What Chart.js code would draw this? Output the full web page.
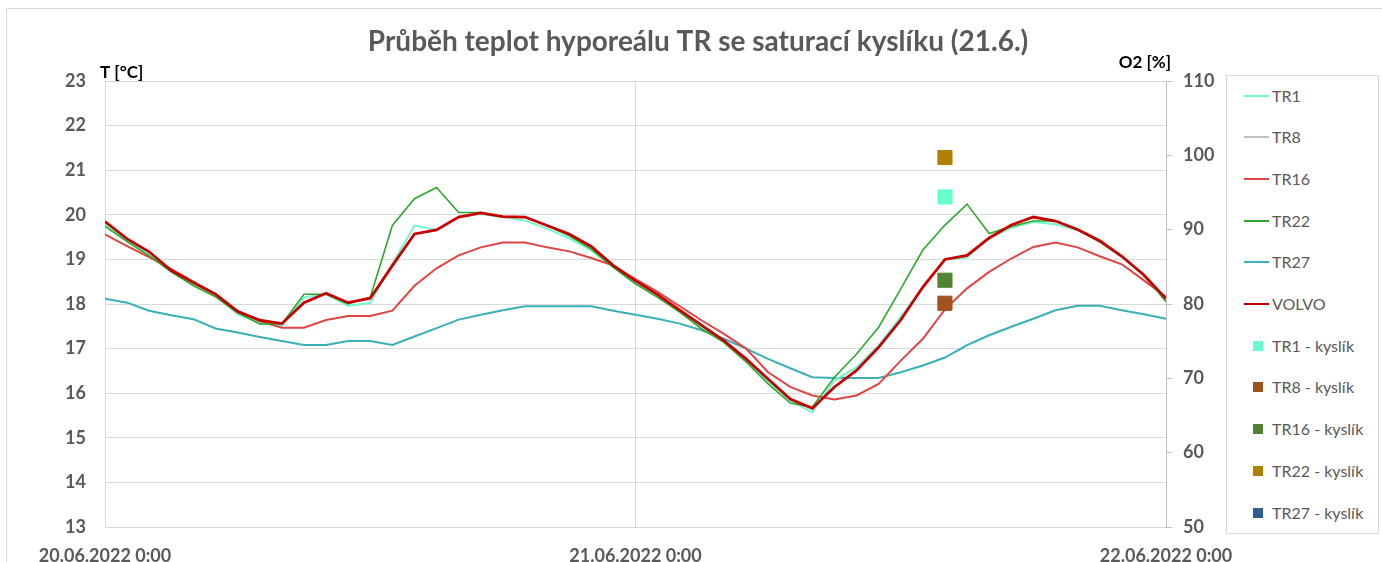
<!DOCTYPE html>
<html lang="cs">
<head>
<meta charset="UTF-8">
<title>Průběh teplot hyporeálu TR</title>
<script src="https://cdn.jsdelivr.net/npm/chart.js"></script>
<style>
    body { margin: 0; background: #fff; overflow: hidden; font-family: Lato, sans-serif; }
    #obal { position: relative; width: 1382px; height: 562px; overflow: hidden; }
    #ramec { position: absolute; left: 6px; top: 8px; width: 1400px; height: 600px; border: 1px solid #D9D9D9; }
    #graf { position: absolute; left: 0; top: 0; }
    #legenda { position: absolute; left: 1226px; top: 75px; width: 151px; height: 457px; border: 1px solid #D9D9D9; background: #fff; }
    .polozka { position: absolute; left: 0; height: 20px; width: 150px; }
    .vzorek { position: absolute; }
    .text { position: absolute; left: 45px; top: 0; line-height: 20px; font-size: 16px; color: #595959; white-space: nowrap; }
</style>
</head>
<body>
<div id="obal">
    <div id="ramec"></div>
    <canvas id="graf" width="1382" height="562"></canvas>
    <div id="legenda"></div>
</div>
<script>
// hodiny od 20.06.2022 0:00
const hodiny = [0, 1, 2, 3, 4, 5, 6, 7, 8, 9, 10, 11, 12, 13, 14, 15, 16, 17, 18, 19, 20, 21, 22, 23, 24,
    25, 26, 27, 28, 29, 30, 31, 32, 33, 34, 35, 36, 37, 38, 39, 40, 41, 42, 43, 44, 45, 46, 47, 48];
const popiskyX = ['20.06.2022 0:00', '21.06.2022 0:00', '22.06.2022 0:00'];

const teplotaTR1 = [19.78, 19.42, 19.10, 18.72, 18.44, 18.18, 17.77, 17.58, 17.50, 18.15, 18.22, 17.96, 18.02,
    18.90, 19.76, 19.66, 19.95, 20.02, 19.95, 19.87, 19.69, 19.47, 19.20, 18.82, 18.45,
    18.18, 17.84, 17.50, 17.16, 16.74, 16.26, 15.84, 15.57, 16.29, 16.58, 17.07, 17.71,
    18.38, 19.00, 19.04, 19.47, 19.71, 19.84, 19.79, 19.65, 19.42, 19.07, 18.65, 18.10];
const teplotaTR8 = [];
const teplotaTR16 = [19.56, 19.30, 19.05, 18.78, 18.50, 18.22, 17.85, 17.62, 17.47, 17.47, 17.64, 17.73, 17.73,
    17.85, 18.41, 18.80, 19.09, 19.27, 19.38, 19.38, 19.27, 19.18, 19.03, 18.86, 18.56,
    18.27, 17.95, 17.63, 17.33, 17.00, 16.47, 16.14, 15.95, 15.86, 15.95, 16.21, 16.73,
    17.22, 17.88, 18.35, 18.72, 19.02, 19.28, 19.38, 19.27, 19.07, 18.89, 18.53, 18.16];
const teplotaTR22 = [19.74, 19.40, 19.08, 18.72, 18.41, 18.16, 17.81, 17.55, 17.55, 18.22, 18.22, 18.00, 18.15,
    19.76, 20.36, 20.61, 20.05, 20.05, 19.95, 19.95, 19.76, 19.53, 19.23, 18.82, 18.45,
    18.15, 17.82, 17.44, 17.14, 16.70, 16.21, 15.78, 15.69, 16.36, 16.88, 17.48, 18.34,
    19.21, 19.77, 20.24, 19.58, 19.74, 19.86, 19.86, 19.67, 19.39, 19.06, 18.65, 18.05];
const teplotaTR27 = [18.12, 18.03, 17.85, 17.75, 17.66, 17.45, 17.36, 17.26, 17.17, 17.08, 17.08, 17.17, 17.17,
    17.08, 17.27, 17.46, 17.65, 17.76, 17.86, 17.95, 17.95, 17.95, 17.95, 17.85, 17.76,
    17.67, 17.56, 17.41, 17.22, 17.00, 16.77, 16.56, 16.36, 16.34, 16.34, 16.34, 16.47,
    16.62, 16.80, 17.08, 17.30, 17.49, 17.67, 17.86, 17.96, 17.96, 17.86, 17.77, 17.67];
const teplotaVOLVO = [19.85, 19.46, 19.17, 18.75, 18.48, 18.22, 17.83, 17.64, 17.56, 18.03, 18.24, 18.03, 18.13,
    18.86, 19.57, 19.66, 19.95, 20.04, 19.96, 19.95, 19.76, 19.57, 19.29, 18.86, 18.52,
    18.21, 17.86, 17.52, 17.18, 16.77, 16.32, 15.87, 15.66, 16.14, 16.51, 17.03, 17.64,
    18.38, 19.00, 19.09, 19.48, 19.77, 19.95, 19.86, 19.67, 19.42, 19.07, 18.65, 18.12];

// saturace kyslíku, měřeno 21.06.2022 14:00
const kyslikHodiny = [38];
const kyslikTR1 = [94.4];
const kyslikTR8 = [80.1];
const kyslikTR16 = [83.2];
const kyslikTR22 = [99.7];
const kyslikTR27 = [];

const sedaText = '#595959';
const mrizka = '#D9D9D9';

const rady = [
    { nazev: 'TR1', data: teplotaTR1, barva: '#74F7CF', sirka: 2, poradi: 4 },
    { nazev: 'TR8', data: teplotaTR8, barva: '#BFBFBF', sirka: 1.5, poradi: 6 },
    { nazev: 'TR16', data: teplotaTR16, barva: '#E04444', sirka: 2, poradi: 3 },
    { nazev: 'TR22', data: teplotaTR22, barva: '#2EA82E', sirka: 1.6, poradi: 2 },
    { nazev: 'TR27', data: teplotaTR27, barva: '#38B0B5', sirka: 2, poradi: 5 },
    { nazev: 'VOLVO', data: teplotaVOLVO, barva: '#C80000', sirka: 2.75, poradi: 1 }
];
const kysliky = [
    { nazev: 'TR1 - kyslík', data: kyslikTR1, barva: '#66FFCC' },
    { nazev: 'TR8 - kyslík', data: kyslikTR8, barva: '#A0521F' },
    { nazev: 'TR16 - kyslík', data: kyslikTR16, barva: '#548235' },
    { nazev: 'TR22 - kyslík', data: kyslikTR22, barva: '#B08000' },
    { nazev: 'TR27 - kyslík', data: kyslikTR27, barva: '#2E5F8F' }
];

const datasety = [];
rady.forEach(r => {
    datasety.push({
        label: r.nazev,
        data: r.data,
        borderColor: r.barva,
        backgroundColor: r.barva,
        borderWidth: r.sirka,
        pointRadius: 0,
        tension: 0,
        yAxisID: 'y',
        order: r.poradi
    });
});
kysliky.forEach(k => {
    datasety.push({
        label: k.nazev,
        data: k.data.map((v, i) => ({ x: kyslikHodiny[i], y: v })),
        showLine: false,
        pointStyle: 'rect',
        pointRadius: 10,
        pointBorderWidth: 1,
        backgroundColor: k.barva,
        borderColor: k.barva,
        yAxisID: 'y2',
        order: 0
    });
});

// nadpisy os nad grafem
const nadpisyOs = {
    id: 'nadpisyOs',
    afterDraw(chart) {
        const ctx = chart.ctx;
        const a = chart.chartArea;
        ctx.save();
        ctx.font = 'bold 17px Lato';
        ctx.fillStyle = '#000';
        ctx.textBaseline = 'alphabetic';
        ctx.textAlign = 'left';
        ctx.fillText('T [°C]', a.left - 5, a.top - 3);
        ctx.textAlign = 'right';
        ctx.fillText('O2 [%]', a.right + 5, a.top - 13);
        ctx.restore();
    }
};

function vytvorLegendu() {
    const leg = document.getElementById('legenda');
    const polozky = [];
    rady.forEach(r => polozky.push({ nazev: r.nazev, barva: r.barva, cara: Math.max(2, r.sirka) }));
    kysliky.forEach(k => polozky.push({ nazev: k.nazev, barva: k.barva, cara: 0 }));
    polozky.forEach((p, i) => {
        const el = document.createElement('div');
        el.className = 'polozka';
        el.style.top = (19.5 + i * 41.7 - 10) + 'px';
        const vz = document.createElement('div');
        vz.className = 'vzorek';
        vz.style.background = p.barva;
        if (p.cara) {
            vz.style.left = '17px';
            vz.style.width = '25px';
            vz.style.height = p.cara + 'px';
            vz.style.top = (10 - p.cara / 2) + 'px';
        } else {
            vz.style.left = '26px';
            vz.style.width = '10px';
            vz.style.height = '10px';
            vz.style.top = '5px';
        }
        const tx = document.createElement('div');
        tx.className = 'text';
        tx.textContent = p.nazev;
        el.appendChild(vz);
        el.appendChild(tx);
        leg.appendChild(el);
    });
}

function kresli() {
    Chart.defaults.font.family = 'Lato';
    const ctx = document.getElementById('graf').getContext('2d');
    new Chart(ctx, {
        type: 'line',
        data: { labels: hodiny, datasets: datasety },
        options: {
            responsive: false,
            animation: false,
            layout: { padding: { left: 14, right: 0, top: 0, bottom: 0 } },
            plugins: {
                legend: { display: false },
                tooltip: { enabled: false },
                title: {
                    display: true,
                    text: 'Průběh teplot hyporeálu TR se saturací kyslíku (21.6.)',
                    color: sedaText,
                    font: { size: 28, weight: 'bold' },
                    padding: { top: 25, bottom: 22.4 }
                }
            },
            scales: {
                x: {
                    type: 'linear',
                    min: 0,
                    max: 48,
                    ticks: {
                        stepSize: 24,
                        maxRotation: 0,
                        color: sedaText,
                        font: { size: 18, weight: 'bold' },
                        padding: 18,
                        callback: v => popiskyX[v / 24]
                    },
                    grid: { color: mrizka, drawTicks: false },
                    border: { color: mrizka },
                    afterFit: s => { s.height = 35; }
                },
                y: {
                    position: 'left',
                    min: 13,
                    max: 23,
                    ticks: { stepSize: 1, color: sedaText, font: { size: 18, weight: 'bold' }, padding: 19 },
                    grid: { color: mrizka, drawTicks: false },
                    border: { color: mrizka },
                    afterFit: s => { s.width = 91; }
                },
                y2: {
                    position: 'right',
                    min: 50,
                    max: 110,
                    ticks: { stepSize: 10, color: sedaText, font: { size: 18, weight: 'bold' }, padding: 11 },
                    grid: { drawOnChartArea: false, drawTicks: true, tickLength: 6, color: '#BFBFBF' },
                    border: { color: '#BFBFBF' },
                    afterFit: s => { s.width = 216; }
                }
            }
        },
        plugins: [nadpisyOs]
    });
    vytvorLegendu();
}

document.fonts.load('bold 18px Lato').then(kresli, kresli);
</script>
</body>
</html>
